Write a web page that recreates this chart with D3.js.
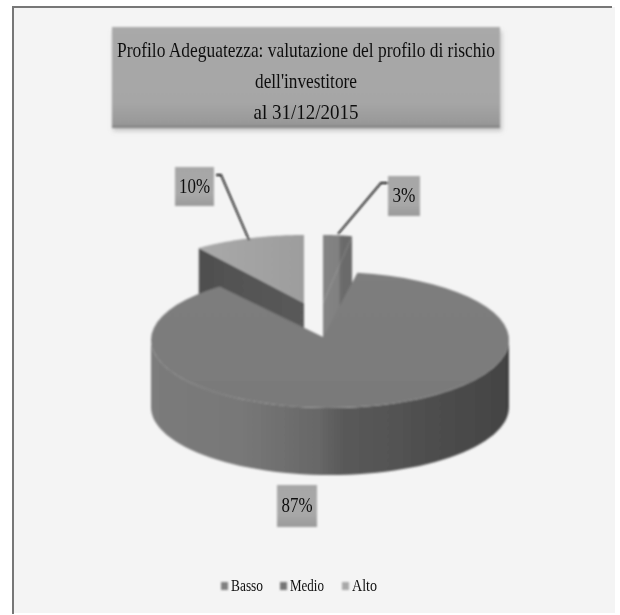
<!DOCTYPE html>
<html><head><meta charset="utf-8">
<script src="https://cdn.jsdelivr.net/npm/d3@7"></script>
<style>html,body{margin:0;padding:0;background:#fff}svg{display:block}text{font-family:"Liberation Serif",serif;fill:#111}</style>
</head><body><div id="chart"></div>
<script>
const categories = ["Basso", "Medio", "Alto"];
const values = [3, 87, 10];
const labels = ["3%", "87%", "10%"];
const titleLines = ["Profilo Adeguatezza: valutazione del profilo di rischio", "dell'investitore", "al 31/12/2015"];

const W = 620, H = 615, deg = Math.PI / 180;
const svg = d3.select("#chart").append("svg").attr("width", W).attr("height", H);
const defs = svg.append("defs");
defs.append("filter").attr("id", "soft").attr("filterUnits", "userSpaceOnUse").attr("x", 0).attr("y", 0).attr("width", W).attr("height", H)
  .append("feGaussianBlur").attr("stdDeviation", 0.8);
defs.append("filter").attr("id", "softText").attr("filterUnits", "userSpaceOnUse").attr("x", 0).attr("y", 0).attr("width", W).attr("height", H)
  .append("feGaussianBlur").attr("stdDeviation", 0.45);
defs.append("filter").attr("id", "shadow").attr("x", "-10%").attr("y", "-20%").attr("width", "120%").attr("height", "140%")
  .append("feGaussianBlur").attr("stdDeviation", 2);
function grad(id, vertical, stops) {
  const g = defs.append("linearGradient").attr("id", id).attr("x1", 0).attr("y1", 0)
    .attr("x2", vertical ? 0 : 1).attr("y2", vertical ? 1 : 0);
  stops.forEach(([o, c]) => g.append("stop").attr("offset", o).attr("stop-color", c));
  return g;
}
grad("boxG", true, [[0, "#a9a9a9"], [.75, "#a6a6a6"], [.96, "#989898"], [1, "#7f7f7f"]]);
grad("lblG", true, [[0, "#a6a6a6"], [.7, "#a8a8a8"], [1, "#9a9a9a"]]);
grad("wallG", false, [[0, "#7b7b7b"], [.25, "#787878"], [.47, "#676767"], [.53, "#5a5a5a"], [.8, "#4d4d4d"], [1, "#434343"]]);
grad("topG", true, [[0, "#7e7e7e"], [1, "#7a7a7a"]]);
grad("bassoG", false, [[0, "#848484"], [.55, "#808080"], [.6, "#6c6c6c"], [1, "#6a6a6a"]])
  .attr("gradientUnits", "userSpaceOnUse").attr("x1", 323).attr("x2", 352);
grad("altoTop", false, [[0, "#a9a9a9"], [1, "#9d9d9d"]]);
grad("altoWall", false, [[0, "#4f4f4f"], [1, "#5a5a5a"]]);

// frame: only the top and left rules are visible in the scan
svg.append("rect").attr("x", 13).attr("y", 7).attr("width", 602).attr("height", 606).attr("fill", "#f4f4f4");
svg.append("path").attr("d", "M13,614V7H612").attr("fill", "none").attr("stroke", "#777").attr("stroke-width", 2);

const root = svg.append("g").attr("filter", "url(#soft)");
const textLayer = svg.append("g").attr("filter", "url(#softText)");

// title box
root.append("rect").attr("x", 113).attr("y", 31).attr("width", 389).attr("height", 100).attr("fill", "#999").attr("opacity", .5).attr("filter", "url(#shadow)");
root.append("rect").attr("x", 112).attr("y", 27).attr("width", 388).attr("height", 101).attr("fill", "url(#boxG)");
const titleWidths = [378, 102, 105];
textLayer.append("g").selectAll("text").data(titleLines).join("text")
  .attr("x", 306).attr("y", (d, i) => 57 + i * 31).attr("text-anchor", "middle").attr("font-size", 21)
  .attr("textLength", (d, i) => titleWidths[i]).attr("lengthAdjust", "spacingAndGlyphs").text(d => d);

// pie
const pieAngles = d3.pie().sort(null).value(d => d)(values);
const depth = 67;
const layout = {
  Basso: { cx: 323, cy: 303, rx: 155, ry: 68, rot: 0, ax: 323, ay: 303, top: "url(#bassoG)", wall: "url(#bassoG)" },
  Medio: { cx: 330, cy: 340, rx: 179, ry: 68, rot: -2, ax: 323, ay: 337, top: "url(#topG)", wall: "url(#wallG)" },
  Alto:  { cx: 304, cy: 303, rx: 179, ry: 68, rot: 0, ax: 304, ay: 303, top: "url(#altoTop)", wall: "url(#altoWall)" }
};
const line = d3.line();
const pt = (l, a, dy = 0) => [l.cx + l.rx * Math.sin(a), l.cy - l.ry * Math.cos(a) + dy];
const arcPts = (l, a0, a1, dy = 0) => d3.range(0, 61).map(i => pt(l, a0 + (a1 - a0) * i / 60, dy));

const slices = categories.map((c, i) => {
  const l = layout[c], r = l.rot * deg;
  return { c, l, a0: pieAngles[i].startAngle + r, a1: pieAngles[i].endAngle + r };
});
const byName = Object.fromEntries(slices.map(s => [s.c, s]));

// Alto: cut face then top
{
  const { l, a0, a1 } = byName.Alto, p = pt(l, a0);
  root.append("path").attr("d", line([p, [l.ax, l.ay], [l.ax, l.ay + depth], [p[0], p[1] + depth]]) + "Z").attr("fill", l.wall);
  root.append("path").attr("d", line([[l.ax, l.ay], ...arcPts(l, a0, a1)]) + "Z").attr("fill", l.top);
}
// Basso: cut face then top
{
  const { l, a0, a1 } = byName.Basso, p = pt(l, a1);
  root.append("path").attr("d", line([[l.ax, l.ay], ...arcPts(l, a0, a1)]) + "Z").attr("fill", l.top);
  root.append("path").attr("d", line([[l.ax, l.ay], p, [p[0], p[1] + depth], [l.ax, l.ay + depth]]) + "Z").attr("fill", l.wall);
}
// Medio: outer wall then top
{
  const { l, a0, a1 } = byName.Medio;
  const w0 = 90 * deg, w1 = 270 * deg;
  root.append("path").attr("d", line([...arcPts(l, w0, w1), ...arcPts(l, w1, w0, depth)]) + "Z").attr("fill", l.wall);
  root.append("path").attr("d", line([[l.ax, l.ay], ...arcPts(l, a0, a1)]) + "Z").attr("fill", l.top);
}

// leaders
const leaders = { Alto: [[216, 175], [221, 175], [249, 240]], Basso: [[388, 183], [381, 183], [338, 234]] };
Object.values(leaders).forEach(pts => root.append("path").attr("d", line(pts)).attr("fill", "none").attr("stroke", "#111").attr("stroke-width", 1.8));

// data labels
const boxes = { Basso: [388, 176, 32, 40], Medio: [277, 485, 40, 42], Alto: [175, 167, 39, 39] };
const labelW = { Basso: 23, Medio: 31, Alto: 31 };
categories.forEach((c, i) => {
  const [x, y, w, h] = boxes[c];
  root.append("rect").attr("x", x).attr("y", y).attr("width", w).attr("height", h).attr("fill", "url(#lblG)");
  textLayer.append("text").attr("x", x + w / 2).attr("y", y + h / 2 + 6).attr("text-anchor", "middle").attr("font-size", 20)
    .attr("textLength", labelW[c]).attr("lengthAdjust", "spacingAndGlyphs").text(labels[i]);
});

// legend
const legendX = { Basso: 221, Medio: 280, Alto: 342 };
const legendW = { Basso: 32, Medio: 34, Alto: 25 };
const legendColor = { Basso: "#808080", Medio: "#767676", Alto: "#a8a8a8" };
categories.forEach(c => {
  const x = legendX[c];
  root.append("rect").attr("x", x).attr("y", 582).attr("width", 7).attr("height", 8).attr("fill", legendColor[c]);
  textLayer.append("text").attr("x", x + 10).attr("y", 591).attr("font-size", 17)
    .attr("textLength", legendW[c]).attr("lengthAdjust", "spacingAndGlyphs").text(c);
});
</script></body></html>
